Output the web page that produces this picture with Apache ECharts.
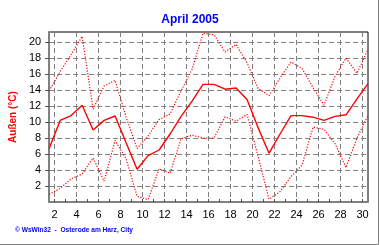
<!DOCTYPE html>
<html><head><meta charset="utf-8">
<script src="https://cdn.jsdelivr.net/npm/echarts@6/dist/echarts.min.js"></script>
<style>html,body{margin:0;padding:0;background:#fff}#c{width:380px;height:245px}</style>
</head><body><div id="c"></div>
<script>
const days = [1,2,3,4,5,6,7,8,9,10,11,12,13,14,15,16,17,18,19,20,21,22,23,24,25,26,27,28,29,30];
const maxTemp  = [13.9,16.3,18.4,20.7,11.6,14.5,15.2,10.6,6.7,8.25,10.3,11.0,13.9,16.6,21.1,20.9,18.75,19.7,17.4,14.2,13.3,15.5,17.5,16.7,14.3,12.1,15.7,18.0,16.1,19.1];
const meanTemp = [6.7,10.2,10.8,12.1,9.0,10.2,10.75,7.4,4.1,5.8,6.5,8.5,10.7,12.6,14.7,14.7,14.1,14.25,12.8,9.3,6.1,8.5,10.8,10.8,10.6,10.2,10.7,10.9,12.9,14.8];
const minTemp  = [0.95,1.7,2.9,3.5,5.5,2.6,7.7,5.4,0.7,0.3,4.15,3.6,7.9,8.35,8.0,8.0,10.65,10.1,10.95,5.7,0.35,1.3,3.2,4.6,9.35,9.1,7.3,4.3,8.0,10.8];
const xTickLabels = [2,4,6,8,10,12,14,16,18,20,22,24,26,28,30];
const xMinorTicks = [2,3,4,5,6,7,8,9,10,11,12,13,14,15,16,17,18,19,20,21,22,23,24,25,26,27,28,29,30];
const yTickLabels = [2,4,6,8,10,12,14,16,18,20];

const chart = echarts.init(document.getElementById('c'), null, {renderer:'canvas'});
const pts = arr => arr.map((v,i)=>[days[i]+0.5, v]);
const dotted = {color:'#ff0000', width:1.2, type:[1.2,1.6]};
const grid = {color:'#808080', width:1, type:[5,3]};
chart.setOption({
  animation:false,
  textStyle:{fontFamily:'Liberation Sans, Arial, sans-serif'},
  title:{text:'April 2005', left:'center', top:9,
    textStyle:{color:'#0000ff', fontSize:12, fontWeight:'bold', fontFamily:'Liberation Sans'}},
  grid:{left:48, right:12, top:32, bottom:43, show:true, borderColor:'#000', borderWidth:1},
  xAxis:[
    {type:'value', min:1.5, max:30.5,
     axisLine:{show:true, onZero:false, lineStyle:{color:'#808080', width:2}},
     axisTick:{show:true, inside:true, length:3, customValues:xMinorTicks, lineStyle:{color:'#505050'}},
     axisLabel:{customValues:xTickLabels, color:'#000', fontSize:11, margin:7},
     splitLine:{show:false}},
    {type:'value', min:1.5, max:30.5, position:'bottom',
     axisLine:{show:false}, axisTick:{show:false, customValues:xTickLabels},
     axisLabel:{show:false}, splitLine:{show:true, lineStyle:grid}}
  ],
  yAxis:{type:'value', min:0, max:21.25,
    axisLine:{show:true, lineStyle:{color:'#808080', width:2}},
    axisTick:{show:true, length:4, customValues:yTickLabels, lineStyle:{color:'#505050'}},
    axisLabel:{customValues:yTickLabels, color:'#000', fontSize:11, margin:8},
    splitLine:{show:true, lineStyle:grid},
    name:'Außen (°C)', nameLocation:'middle', nameRotate:90, nameGap:30,
    nameTextStyle:{color:'#ff0000', fontWeight:'bold', fontSize:10}},
  series:[
    {type:'line', name:'max', data:pts(maxTemp), showSymbol:false, symbol:'none', lineStyle:dotted, xAxisIndex:0},
    {type:'line', name:'mean', data:pts(meanTemp), showSymbol:false, symbol:'none', lineStyle:{color:'#ff0000', width:1.4}, xAxisIndex:0},
    {type:'line', name:'min', data:pts(minTemp), showSymbol:false, symbol:'none', lineStyle:dotted, xAxisIndex:0}
  ],
  graphic:[
    {type:'text', left:15, top:227, style:{text:'© WsWin32  -  Osterode am Harz, City', fill:'#0000ff', font:'bold 6.6px Liberation Sans'}},
    {type:'line', shape:{x1:378.5, y1:0, x2:378.5, y2:244.5}, style:{stroke:'#808080', lineWidth:1}},
    {type:'line', shape:{x1:0, y1:244.5, x2:378.5, y2:244.5}, style:{stroke:'#808080', lineWidth:1}}
  ]
});
</script></body></html>
